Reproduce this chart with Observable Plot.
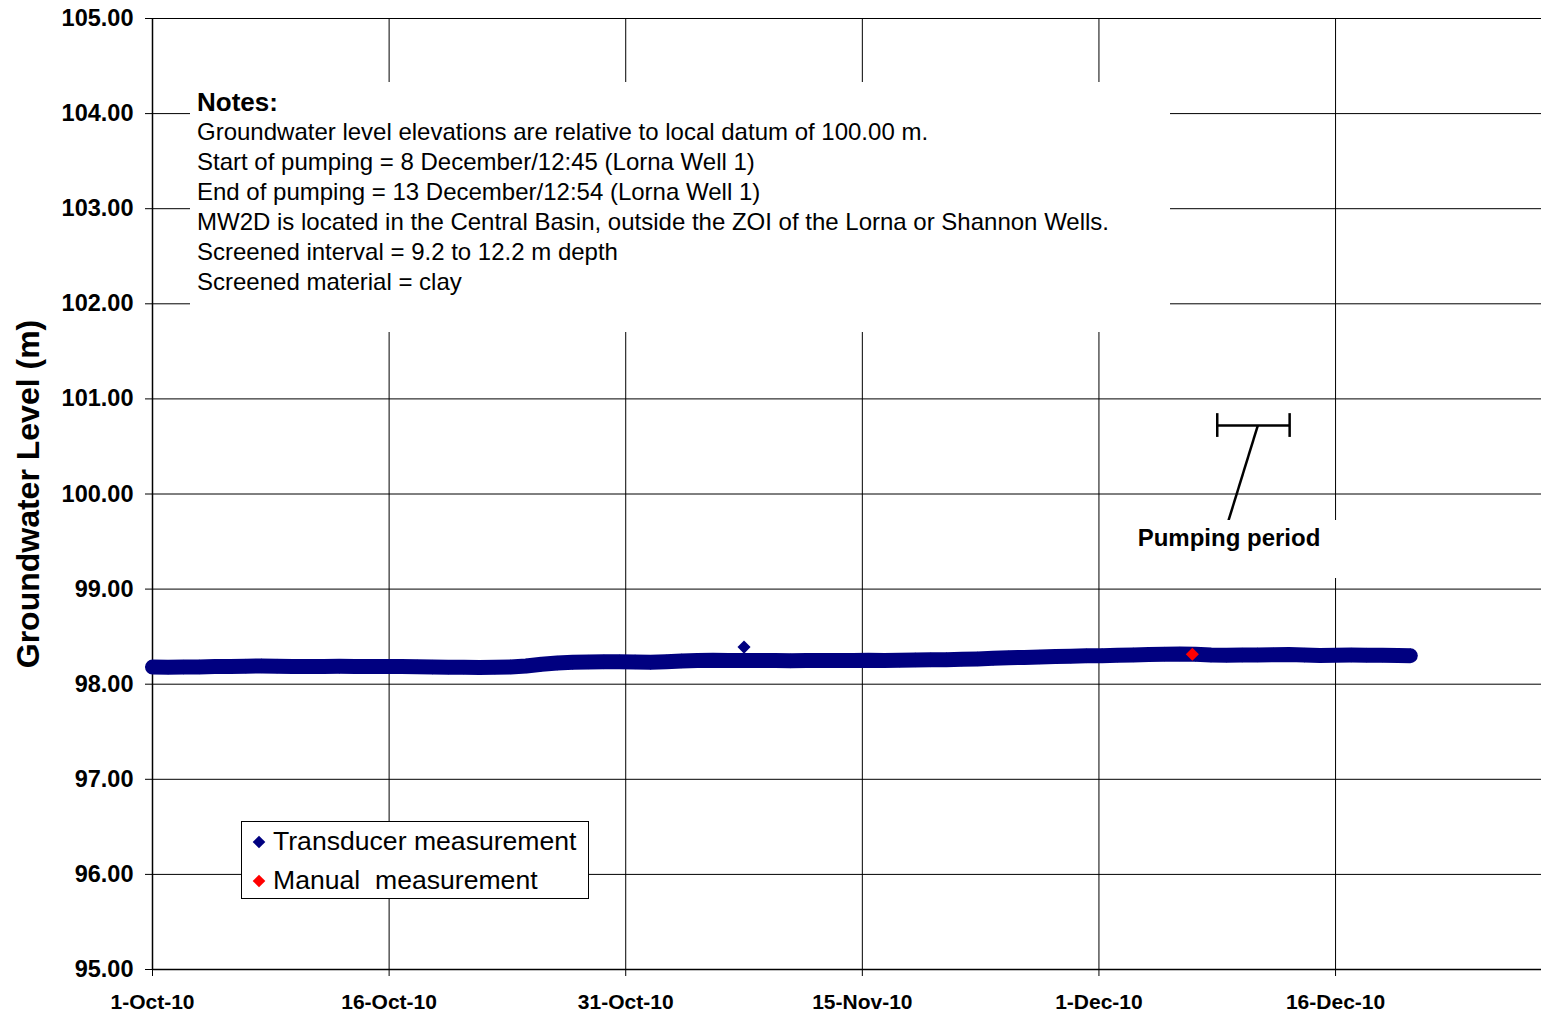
<!DOCTYPE html>
<html>
<head>
<meta charset="utf-8">
<script src="https://cdn.jsdelivr.net/npm/d3@7"></script>
<script src="https://cdn.jsdelivr.net/npm/@observablehq/plot@0.6"></script>
<style>
  body { margin: 0; background: #fff; font-family: "Liberation Sans", Arial, sans-serif; }
  #wrap { position: relative; width: 1542px; height: 1015px; overflow: hidden; }
  #notes { position: absolute; left: 190px; top: 82px; width: 980px; height: 250px; background: #fff; box-sizing: border-box; padding: 5px 0 0 7px; }
  #notes .t { font-weight: bold; font-size: 26px; line-height: 30px; }
  #notes .l { font-size: 24px; line-height: 30px; white-space: nowrap; }
  #pump { position: absolute; left: 1123px; top: 520px; width: 212px; height: 58px; background: #fff; font-weight: bold; font-size: 24px; text-align: center; line-height: 36px; }
  #pumpbg { position: absolute; left: 1320px; top: 520px; width: 22px; height: 58px; background: #fff; }
  #legend { position: absolute; left: 241px; top: 821px; width: 348px; height: 78px; background: #fff; border: 1px solid #000; box-sizing: border-box; }
  #legend .it { position: absolute; left: 10px; font-size: 26.6px; white-space: pre; display: flex; align-items: center; }
  #legend svg { margin-right: 7px; }
</style>
</head>
<body>
<div id="wrap"></div>
<script>
// ---- data ----
const xTickDays = [0, 15.2, 30.4, 45.6, 60.8, 76];
const xTickLabels = ["1-Oct-10", "16-Oct-10", "31-Oct-10", "15-Nov-10", "1-Dec-10", "16-Dec-10"];
const yTicks = [95, 96, 97, 98, 99, 100, 101, 102, 103, 104, 105];

// transducer record (days since 1-Oct-10, level in m)
const transducerDay = [0,1,2,3,4,5,6,7,8,9,10,11,12,13,14,15,16,17,18,19,20,21,22,23,24,25,26,27,28,29,30,31,32,33,34,35,36,37,38,39,40,41,42,43,44,45,46,47,48,49,50,51,52,53,54,55,56,57,58,59,60,61,62,63,64,65,66,67,68,69,70,71,72,73,74,75,76,77,78,79,80,80.8];
const transducerLevel = [98.180,98.178,98.180,98.182,98.185,98.186,98.190,98.192,98.190,98.186,98.185,98.187,98.188,98.186,98.185,98.186,98.185,98.183,98.180,98.178,98.178,98.176,98.178,98.182,98.192,98.210,98.222,98.230,98.233,98.235,98.236,98.234,98.230,98.236,98.245,98.250,98.252,98.248,98.250,98.250,98.248,98.246,98.248,98.250,98.248,98.250,98.252,98.250,98.252,98.255,98.256,98.258,98.262,98.266,98.272,98.278,98.282,98.286,98.290,98.294,98.298,98.300,98.304,98.308,98.312,98.316,98.318,98.314,98.306,98.304,98.306,98.308,98.310,98.312,98.306,98.302,98.304,98.306,98.305,98.304,98.302,98.300];
const outlierDay = [38.0];
const outlierLevel = [98.39];
const manualDay = [66.8];
const manualLevel = [98.315];

// pumping period bar (days since 1-Oct-10)
const pumpingPeriod = [68.4, 73.05];
const pumpingBarLevel = 100.72;

const notesLines = [
  "Groundwater level elevations are relative to local datum of 100.00 m.",
  "Start of pumping = 8 December/12:45 (Lorna Well 1)",
  "End of pumping = 13 December/12:54 (Lorna Well 1)",
  "MW2D is located in the Central Basin, outside the ZOI of the Lorna or Shannon Wells.",
  "Screened interval = 9.2 to 12.2 m depth",
  "Screened material = clay"
];

const NAVY = "#000080";
const RED = "#ff0000";

const transducer = transducerDay.map((d, i) => ({day: d, level: transducerLevel[i]}));
const outliers = outlierDay.map((d, i) => ({day: d, level: outlierLevel[i]}));
const manual = manualDay.map((d, i) => ({day: d, level: manualLevel[i]}));
const tickLabel = new Map(xTickDays.map((d, i) => [d, xTickLabels[i]]));

const chart = Plot.plot({
  width: 1542,
  height: 1015,
  marginLeft: 152,
  marginTop: 18,
  marginBottom: 46,
  marginRight: 1,
  style: {background: "white", fontFamily: "'Liberation Sans', Arial, sans-serif", color: "#000"},
  x: {domain: [0, 89.23]},
  y: {domain: [95, 105]},
  marks: [
    Plot.gridY(yTicks.slice(1), {stroke: "#000", strokeOpacity: 1, strokeWidth: 1}),
    Plot.gridX(xTickDays.slice(1), {stroke: "#000", strokeOpacity: 1, strokeWidth: 1}),
    Plot.axisY(yTicks, {
      tickSize: 7, tickPadding: 12, tickFormat: d => d.toFixed(2),
      fontSize: 23.5, fontWeight: "bold", label: null, stroke: "#000"
    }),
    Plot.axisX(xTickDays, {
      tickSize: 7, tickPadding: 18, tickFormat: d => tickLabel.get(d),
      fontSize: 21, fontWeight: "bold",
      label: null
    }),
    Plot.ruleX([0], {stroke: "#000", strokeWidth: 1.5}),
    Plot.ruleY([95], {stroke: "#000", strokeWidth: 1.5}),
    Plot.text(["Groundwater Level (m)"], {
      frameAnchor: "left", dx: -124, rotate: -90, textAnchor: "middle",
      fontSize: 32, fontWeight: "bold", fill: "#000"
    }),
    // transducer band
    Plot.line(transducer, {x: "day", y: "level", stroke: NAVY, strokeWidth: 15, strokeLinejoin: "round"}),
    Plot.dot(transducer, {x: "day", y: "level", symbol: "diamond2", r: 6.6, fill: NAVY}),
    Plot.dot(outliers, {x: "day", y: "level", symbol: "diamond2", r: 5.9, fill: NAVY}),
    Plot.dot(manual, {x: "day", y: "level", symbol: "diamond2", r: 5.9, fill: RED}),
    // pumping period annotation
    Plot.link([pumpingPeriod], {x1: d => d[0], x2: d => d[1], y1: pumpingBarLevel, y2: pumpingBarLevel, stroke: "#000", strokeWidth: 2.5}),
    Plot.ruleX(pumpingPeriod, {y1: pumpingBarLevel - 0.125, y2: pumpingBarLevel + 0.125, stroke: "#000", strokeWidth: 2.5}),
    Plot.link([pumpingPeriod], {
      x1: d => d[0] + 0.56 * (d[1] - d[0]), y1: pumpingBarLevel,
      x2: d => d[0] + 0.155 * (d[1] - d[0]), y2: pumpingBarLevel - 1.0,
      stroke: "#000", strokeWidth: 2.5
    })
  ]
});

const wrap = document.getElementById("wrap");
wrap.appendChild(chart);

// notes box
const notes = document.createElement("div");
notes.id = "notes";
notes.innerHTML = `<div class="t">Notes:</div>` + notesLines.map(s => `<div class="l">${s}</div>`).join("");
wrap.appendChild(notes);

// pumping label
const pumpbg = document.createElement("div");
pumpbg.id = "pumpbg";
wrap.appendChild(pumpbg);
const pump = document.createElement("div");
pump.id = "pump";
pump.textContent = "Pumping period";
wrap.appendChild(pump);

// legend
const diamond = c => `<svg width="14" height="14" viewBox="-7 -7 14 14"><path d="M0,-6.3L6.3,0L0,6.3L-6.3,0Z" fill="${c}"/></svg>`;
const legend = document.createElement("div");
legend.id = "legend";
legend.innerHTML =
  `<div class="it" style="top:4px">${diamond(NAVY)}Transducer measurement</div>` +
  `<div class="it" style="top:43px">${diamond(RED)}Manual  measurement</div>`;
wrap.appendChild(legend);
</script>
</body>
</html>
